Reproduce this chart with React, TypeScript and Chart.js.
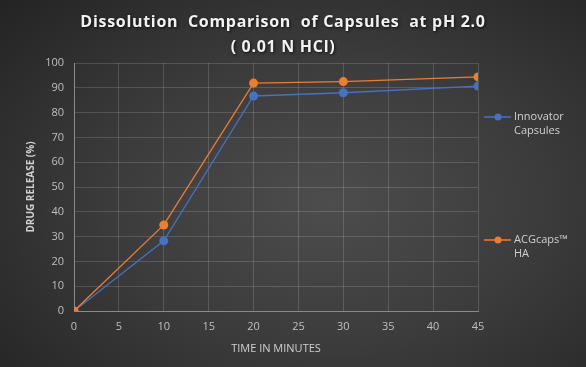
import React, { useEffect, useRef } from "react";
import { Chart, registerables } from "chart.js";

Chart.register(...registerables);

const titleLines = ["Dissolution  Comparison  of Capsules  at pH 2.0", "( 0.01 N HCl)"];
const xTitle = "TIME IN MINUTES";
const yTitle = "DRUG RELEASE (%)";
const timeMinutes = [0, 10, 20, 30, 45];
const innovatorLabel = "Innovator Capsules";
const innovatorValues = [0, 28.3, 86.7, 88.0, 90.7];
const acgLabel = "ACGcaps™ HA";
const acgValues = [0, 34.7, 91.9, 92.5, 94.4];
const legendLines = [["Innovator", "Capsules"], ["ACGcaps™", "HA"]];
const blue = "#4472c4";
const orange = "#ed7d31";

const decorPlugin = {
  id: "decor",
  afterDraw(chart: any) {
    const ctx = chart.ctx as CanvasRenderingContext2D;
    ctx.save();
    ctx.font = "bold 16px 'Open Sans'";
    ctx.fillStyle = "#f2f2f2";
    ctx.textAlign = "center";
    ctx.textBaseline = "middle";
    (ctx as any).letterSpacing = "0.7px";
    ctx.shadowColor = "rgba(0,0,0,0.75)";
    ctx.shadowBlur = 3;
    ctx.shadowOffsetX = 1;
    ctx.shadowOffsetY = 1;
    ctx.fillText(titleLines[0], 283, 22);
    ctx.fillText(titleLines[1], 283, 47);
    ctx.restore();

    ctx.save();
    const colors = [blue, orange];
    const ys = [117, 240];
    chart.data.datasets.forEach((ds: any, i: number) => {
      const y = ys[i];
      ctx.strokeStyle = colors[i];
      ctx.lineWidth = 1.5;
      ctx.beginPath();
      ctx.moveTo(484, y);
      ctx.lineTo(511, y);
      ctx.stroke();
      ctx.fillStyle = colors[i];
      ctx.beginPath();
      ctx.arc(498, y, 3.5, 0, Math.PI * 2);
      ctx.fill();
      ctx.fillStyle = "#d0d0d0";
      ctx.font = "11px 'Open Sans'";
      ctx.textAlign = "left";
      ctx.textBaseline = "middle";
      legendLines[i].forEach((t, j) => ctx.fillText(t, 514, y + j * 14));
    });
    ctx.restore();
  },
};

export default function App() {
  const ref = useRef<HTMLCanvasElement>(null);
  useEffect(() => {
    const chart = new Chart(ref.current!, {
      type: "line",
      data: {
        datasets: [
          {
            label: innovatorLabel,
            data: timeMinutes.map((x, i) => ({ x, y: innovatorValues[i] })),
            borderColor: blue,
            backgroundColor: blue,
            borderWidth: 1.3,
            pointRadius: 4.5,
            pointHoverRadius: 4.5,
            pointBorderWidth: 0,
            order: 1,
          },
          {
            label: acgLabel,
            data: timeMinutes.map((x, i) => ({ x, y: acgValues[i] })),
            borderColor: orange,
            backgroundColor: orange,
            borderWidth: 1.3,
            pointRadius: 4.5,
            pointHoverRadius: 4.5,
            pointBorderWidth: 0,
            order: 0,
          },
        ],
      },
      options: {
        animation: false,
        responsive: false,
        layout: { padding: { top: 63, right: 108, left: 0, bottom: 0 } },
        plugins: { legend: { display: false }, title: { display: false }, tooltip: { enabled: false } },
        scales: {
          x: {
            type: "linear",
            min: 0,
            max: 45,
            ticks: { stepSize: 5, color: "#bfbfbf", font: { size: 11, family: "'Open Sans'" }, padding: 9 },
            grid: { color: "rgba(255,255,255,0.15)", drawTicks: false },
            border: { color: "#8a8a8a", width: 1 },
            title: {
              display: true,
              text: xTitle,
              color: "#d0d0d0",
              font: { size: 11, family: "'Open Sans'" },
              padding: { top: 4, bottom: 12 },
            },
            afterFit: (s: any) => {
              s.height = 56;
            },
          },
          y: {
            min: 0,
            max: 100,
            ticks: { stepSize: 10, color: "#bfbfbf", font: { size: 11, family: "'Open Sans'" }, padding: 10 },
            grid: { color: "rgba(255,255,255,0.15)", drawTicks: false },
            border: { color: "#8a8a8a", width: 1 },
            title: {
              display: true,
              text: yTitle,
              color: "#d0d0d0",
              font: { size: 10, weight: "bold", family: "'Open Sans'" },
              padding: { top: 25, bottom: 0 },
            },
            afterFit: (s: any) => {
              s.width = 74;
            },
          },
        },
      },
      plugins: [decorPlugin],
    } as any);
    return () => chart.destroy();
  }, []);
  return (
    <div
      style={{
        position: "fixed",
        left: 0,
        top: 0,
        width: 586,
        height: 367,
        background: "radial-gradient(ellipse 75% 80% at 56% 55%, #4d4d4d 0%, #3b3b3b 50%, #242424 100%)",
      }}
    >
      <canvas ref={ref} width={586} height={367} />
    </div>
  );
}
